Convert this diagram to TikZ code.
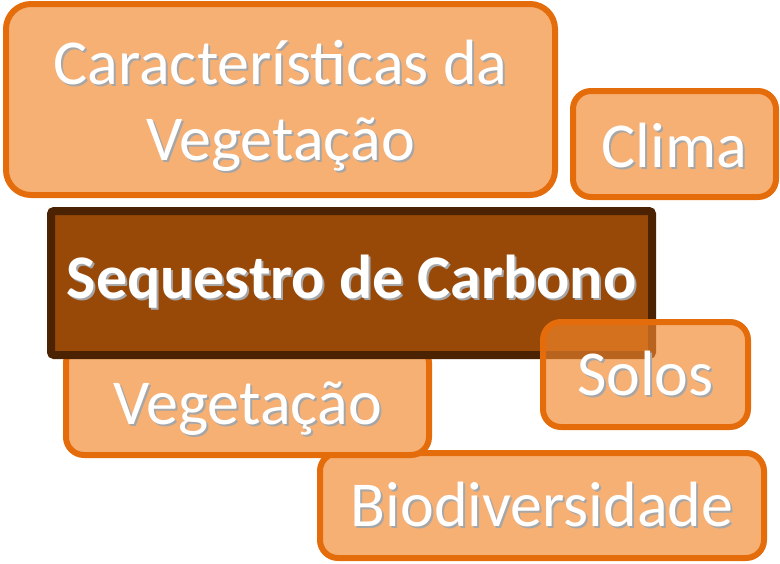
\documentclass[tikz,border=0pt]{standalone}
\usepackage{fontspec}
\setmainfont{Carlito}
\usepackage{xcolor}
\usetikzlibrary{positioning}

\definecolor{laranjaClaro}{HTML}{F7B074}
\definecolor{laranjaSolos}{HTML}{F3872C}
\definecolor{laranjaBorda}{HTML}{E46C0A}
\definecolor{marrom}{HTML}{984807}
\definecolor{marromBorda}{HTML}{4B2303}

% texto branco com sombra (argumento opcional: descer o texto)
\newcommand{\sombra}[2][0pt]{\leavevmode\raisebox{-#1}[\height][\depth]{%
  \rlap{\kern2pt\raisebox{-2pt}{\textcolor{black!35}{#2}}}\textcolor{white}{#2}}}

\tikzset{
  caixa/.style={draw=laranjaBorda, fill=laranjaClaro, line width=6pt,
    rounded corners=18pt, inner sep=0pt, align=center,
    font=\fontsize{64}{76}\selectfont},
  central/.style={draw=marromBorda, fill=marrom, line width=8pt,
    rounded corners=3pt, inner sep=0pt, align=center,
    font=\fontsize{62}{70}\selectfont\bfseries}
}

\begin{document}
\begin{tikzpicture}[x=1pt, y=-1pt]
  \useasboundingbox (0,0) rectangle (780,563);

  % Caixas de cima
  \node[caixa, rounded corners=25pt, minimum width=549pt, minimum height=191pt]
    (caracteristicas) at (280.5,99.5) {\sombra[7pt]{Características da}\\\sombra[7pt]{Vegetação}};
  \node[caixa, minimum width=203pt, minimum height=106pt]
    (clima) at (674.5,144) {\sombra[3pt]{Clima}};

  % Caixas de baixo
  \node[caixa, minimum width=444pt, minimum height=105pt]
    (biodiversidade) at (542,505.5) {\sombra{Biodiversidade}};
  \node[caixa, minimum width=363pt, minimum height=110pt]
    (vegetacao) at (247.5,400) {\sombra[10pt]{Vegetação}};

  % Tema central
  \node[central, minimum width=601pt, minimum height=144pt]
    (sequestro) at (351.5,283) {\sombra{Sequestro de Carbono}};

  % Solos (semi-transparente por cima)
  \node[caixa, fill=laranjaSolos, fill opacity=0.66, text opacity=1,
    minimum width=205pt, minimum height=105pt]
    (solos) at (645.5,374.5) {\sombra{Solos}};
\end{tikzpicture}
\end{document}
